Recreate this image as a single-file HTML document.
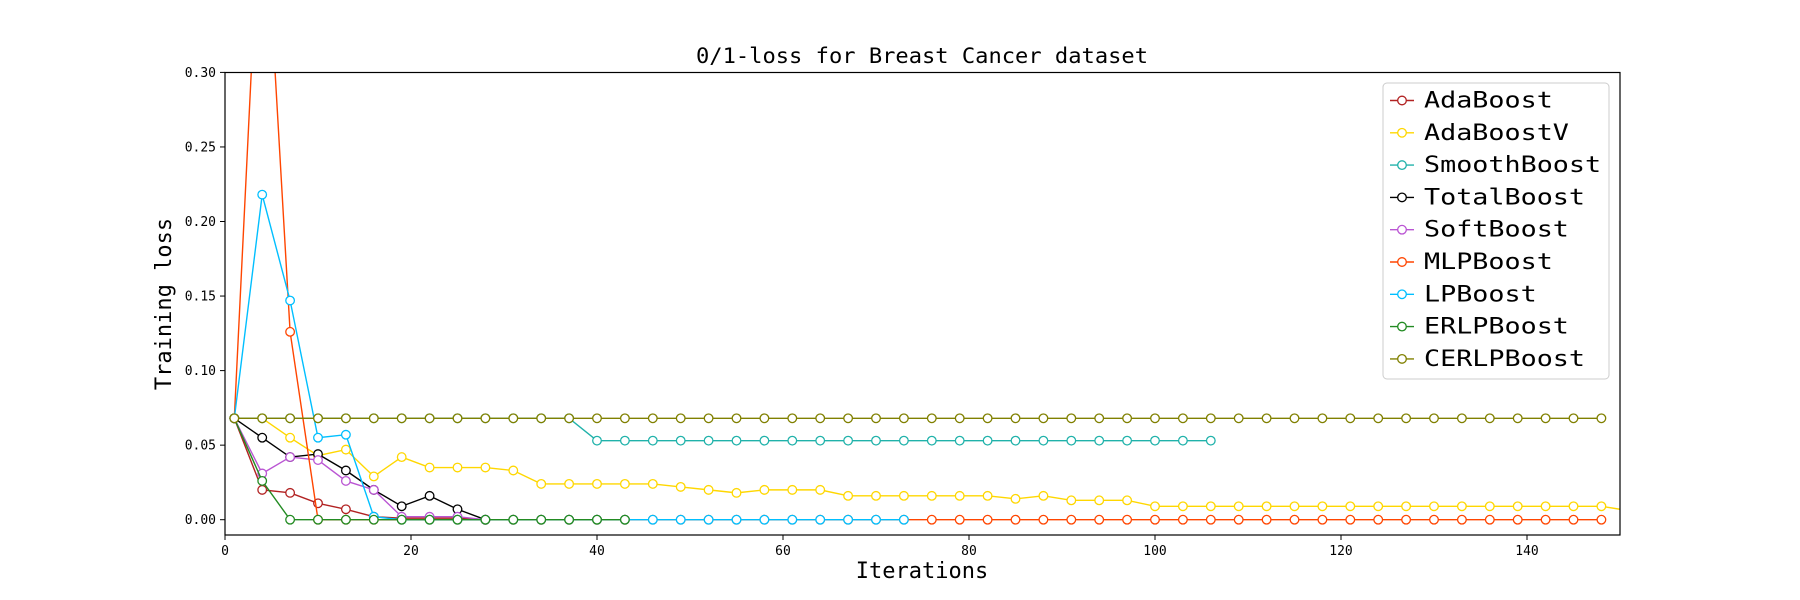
<!DOCTYPE html>
<html><head><meta charset="utf-8"><style>
html,body{margin:0;padding:0;background:#fff;}
svg{display:block;font-family:"DejaVu Sans Mono","Liberation Mono",monospace;}
</style></head><body>
<svg id="chart" width="1800" height="600" xmlns="http://www.w3.org/2000/svg">
<defs><clipPath id="clip"><rect x="225" y="72" width="1395" height="463"/></clipPath></defs>
<text x="922" y="63" text-anchor="middle" font-size="21" textLength="452" lengthAdjust="spacingAndGlyphs">0/1-loss for Breast Cancer dataset</text>
<text x="922" y="578" text-anchor="middle" font-size="22">Iterations</text>
<text transform="translate(171,304) rotate(-90)" text-anchor="middle" font-size="22">Training loss</text>
<g id="axes"></g>
<g id="series" clip-path="url(#clip)"></g>
<rect x="225" y="72.5" width="1395" height="462.5" fill="none" stroke="#000" stroke-width="1.2"/>
<g id="legend"></g>
</svg>
<script>
const xTicks=[0,20,40,60,80,100,120,140];
const yTicks=[0,0.05,0.10,0.15,0.20,0.25,0.30];
const yTickLabels=["0.00","0.05","0.10","0.15","0.20","0.25","0.30"];
const seriesNames=["AdaBoost","AdaBoostV","SmoothBoost","TotalBoost","SoftBoost","MLPBoost","LPBoost","ERLPBoost","CERLPBoost"];
const seriesColors=["#b22222","#ffd700","#20b2aa","#000000","#ba55d3","#ff4500","#00bfff","#228b22","#808000"];
const adaBoost=[0.068,0.020,0.018,0.011,0.007,0.002,0.001,0.001,0.001,0,0,0,0,0,0];
const adaBoostV=[0.068,0.068,0.055,0.043,0.047,0.029,0.042,0.035,0.035,0.035,0.033,0.024,0.024,0.024,0.024,0.024,0.022,0.020,0.018,0.020,0.020,0.020,0.016,0.016,0.016,0.016,0.016,0.016,0.014,0.016,0.013,0.013,0.013,0.009,0.009,0.009,0.009,0.009,0.009,0.009,0.009,0.009,0.009,0.009,0.009,0.009,0.009,0.009,0.009,0.009];
const smoothBoost=[0.068,0.068,0.068,0.068,0.068,0.068,0.068,0.068,0.068,0.068,0.068,0.068,0.068,0.053,0.053,0.053,0.053,0.053,0.053,0.053,0.053,0.053,0.053,0.053,0.053,0.053,0.053,0.053,0.053,0.053,0.053,0.053,0.053,0.053,0.053,0.053];
const totalBoost=[0.068,0.055,0.042,0.044,0.033,0.020,0.009,0.016,0.007,0];
const softBoost=[0.068,0.031,0.042,0.040,0.026,0.020,0.002,0.002,0.002,0];
const mlpBoost=[0.068,0.45,0.126,0,0,0,0,0,0,0,0,0,0,0,0,0,0,0,0,0,0,0,0,0,0,0,0,0,0,0,0,0,0,0,0,0,0,0,0,0,0,0,0,0,0,0,0,0,0,0];
const lpBoost=[0.068,0.218,0.147,0.055,0.057,0.002,0,0,0,0,0,0,0,0,0,0,0,0,0,0,0,0,0,0,0];
const erlpBoost=[0.068,0.026,0,0,0,0,0,0,0,0,0,0,0,0,0];
const cerlpBoost=[0.068,0.068,0.068,0.068,0.068,0.068,0.068,0.068,0.068,0.068,0.068,0.068,0.068,0.068,0.068,0.068,0.068,0.068,0.068,0.068,0.068,0.068,0.068,0.068,0.068,0.068,0.068,0.068,0.068,0.068,0.068,0.068,0.068,0.068,0.068,0.068,0.068,0.068,0.068,0.068,0.068,0.068,0.068,0.068,0.068,0.068,0.068,0.068,0.068,0.068];
const seriesData=[adaBoost,adaBoostV,smoothBoost,totalBoost,softBoost,mlpBoost,lpBoost,erlpBoost,cerlpBoost];
const iterStep=3, iterStart=1;
const X=v=>225+v*(1395/150);
const Y=v=>519.7-v*1491;
const NS="http://www.w3.org/2000/svg";
const axes=document.getElementById('axes');
function mk(tag,attrs,parent){const e=document.createElementNS(NS,tag);for(const k in attrs)e.setAttribute(k,attrs[k]);parent.appendChild(e);return e;}
xTicks.forEach(t=>{
  const l=mk('line',{x1:X(t),x2:X(t),y1:535,y2:540,stroke:'#000'},axes);
  
  
  const tx=mk('text',{x:X(t),y:555,'text-anchor':'middle','font-size':13},axes);
  tx.textContent=t;
  
  
});
yTicks.forEach((t,i)=>{
  const l=mk('line',{x1:220,x2:225,y1:Y(t),y2:Y(t),stroke:'#000'},axes);
  
  
  const tx=mk('text',{x:216,y:Y(t)+4.5,'text-anchor':'end','font-size':13},axes);
  tx.textContent=yTickLabels[i];
  
  
});
const sg=document.getElementById('series');
seriesData.forEach((d,si)=>{
  const g=mk('g',{},sg);
  
  
  const pts=d.map((v,i)=>X(iterStart+i*iterStep)+','+Y(v));
  if(si===1) pts.push(X(150)+','+Y(0.007));
  mk('polyline',{points:pts.join(' '),fill:'none',stroke:seriesColors[si],'stroke-width':1.4},g);
  d.forEach((v,i)=>{
    const c=mk('circle',{cx:X(iterStart+i*iterStep),cy:Y(v),r:4.3,fill:'#fff',stroke:seriesColors[si],'stroke-width':1.3},g);
    
    
  });
});
const lg=document.getElementById('legend');
mk('rect',{x:1383,y:83,width:226,height:296,rx:4,fill:'#fff','fill-opacity':0.85,stroke:'#ccc'},lg);
seriesNames.forEach((n,i)=>{
  const y=100.5+i*32.3;
  const e=mk('g',{},lg);
  
  
  mk('line',{x1:1390,x2:1414,y1:y,y2:y,stroke:seriesColors[i],'stroke-width':1.4},e);
  mk('circle',{cx:1402,cy:y,r:4.3,fill:'#fff',stroke:seriesColors[i],'stroke-width':1.3},e);
  const t=mk('text',{x:1424,y:y+7,'font-size':22,textLength:n.length*16.1,lengthAdjust:'spacingAndGlyphs'},e);
  t.textContent=n;
});
</script>
</body></html>
